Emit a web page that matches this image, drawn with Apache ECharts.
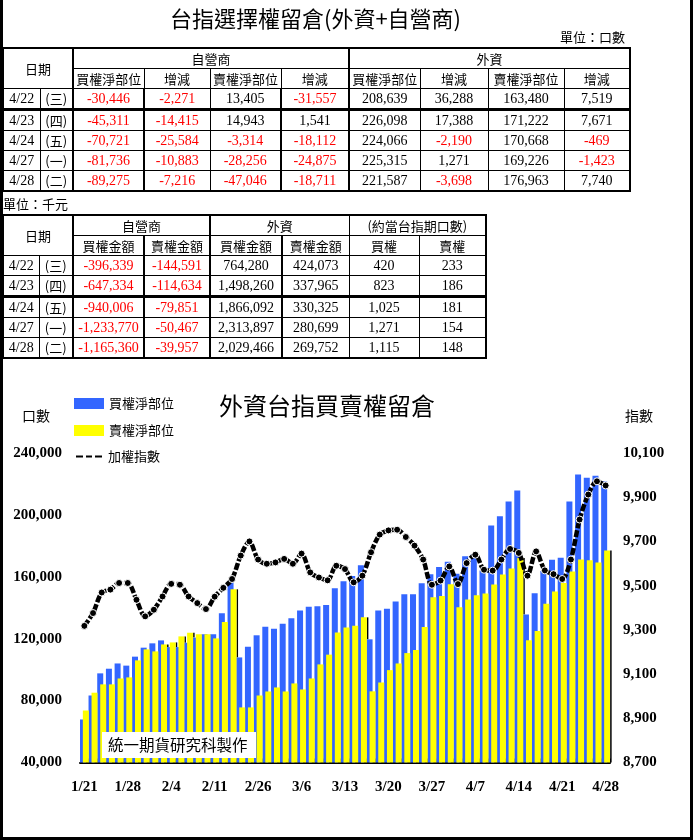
<!DOCTYPE html>
<html>
<head>
<meta charset="utf-8">
<script src="https://cdn.jsdelivr.net/npm/echarts@6/dist/echarts.min.js"></script>
<style>
  html, body { margin: 0; padding: 0; background: #fff; }
  #page { position: relative; width: 693px; height: 840px; overflow: hidden; background: #fff; }
  #chart { position: absolute; left: 0; top: 0; width: 693px; height: 840px; }
  .txt { position: absolute; font-family: "Noto Sans CJK TC", sans-serif; color: #000; white-space: nowrap; }
  table.tb { position: absolute; border-collapse: collapse; table-layout: fixed; border: 2px solid #000; background: #fff; }
  table.tb td { border: 1px solid #000; padding: 0; text-align: center; height: 19px; font-size: 13px; line-height: 14px;
    white-space: nowrap; overflow: hidden; font-family: "Noto Sans CJK TC", sans-serif; color: #000; }
  table.tb td.num { font-family: "Liberation Serif", "Noto Sans CJK TC", serif; font-size: 14px; }
  table.tb td.neg { color: #ff0000; }
  table.tb tr.thick td { border-bottom: 3px solid #000; }
  table.tb td.vt { border-left: 2px solid #000; }
  #frame { position: absolute; left: 0; top: 0; width: 687px; height: 837px; border-left: 3px solid #000; border-right: 3px solid #000; border-bottom: 3px solid #000; pointer-events: none; }
</style>
</head>
<body>
<div id="page">
  <div id="chart"></div>
  <div class="txt" style="left:2px;width:627px;top:4px;font-size:22px;line-height:26px;text-align:center;">台指選擇權留倉(外資+自營商)</div>
  <div class="txt" style="left:560px;top:29px;font-size:13px;line-height:16px;">單位：口數</div>
  <table class="tb" id="t1" style="left:2px;top:47px;width:627px;"></table>
  <div class="txt" style="left:3px;top:196px;font-size:13px;line-height:16px;">單位：千元</div>
  <table class="tb" id="t2" style="left:2px;top:214px;width:483px;"></table>
  <div id="frame"></div>
</div>
<script>
// ---------- table data ----------
const tblDates = ['4/22', '4/23', '4/24', '4/27', '4/28'];
const tblWeekdays = ['(三)', '(四)', '(五)', '(一)', '(二)'];
// 自營商 (dealers), 口數
const dealerCallNet = [-30446, -45311, -70721, -81736, -89275];
const dealerCallChg = [-2271, -14415, -25584, -10883, -7216];
const dealerPutNet = [13405, 14943, -3314, -28256, -47046];
const dealerPutChg = [-31557, 1541, -18112, -24875, -18711];
// 外資 (foreign), 口數
const foreignCallNet = [208639, 226098, 224066, 225315, 221587];
const foreignCallChg = [36288, 17388, -2190, 1271, -3698];
const foreignPutNet = [163480, 171222, 170668, 169226, 176963];
const foreignPutChg = [7519, 7671, -469, -1423, 7740];
// 千元
const dealerCallAmt = [-396339, -647334, -940006, -1233770, -1165360];
const dealerPutAmt = [-144591, -114634, -79851, -50467, -39957];
const foreignCallAmt = [764280, 1498260, 1866092, 2313897, 2029466];
const foreignPutAmt = [424073, 337965, 330325, 280699, 269752];
const equivCall = [420, 823, 1025, 1271, 1115];
const equivPut = [233, 186, 181, 154, 148];

// ---------- chart data ----------
const categories = ['1/21','1/22','1/23','1/26','1/27','1/28','1/29','1/30','2/2','2/3','2/4','2/5','2/6','2/9','2/10','2/11','2/12','2/13','2/24','2/25','2/26','3/2','3/3','3/4','3/5','3/6','3/9','3/10','3/11','3/12','3/13','3/16','3/17','3/18','3/19','3/20','3/23','3/24','3/25','3/26','3/27','3/30','3/31','4/1','4/2','4/7','4/8','4/9','4/10','4/13','4/14','4/15','4/16','4/17','4/20','4/21','4/22','4/23','4/24','4/27','4/28'];
const callNetOI = [67800, 83300, 97600, 100600, 104000, 102600, 108400, 114200, 117000, 118900, 114600, 114600, 117400, 120700, 122800, 122800, 136400, 156300, 107900, 114800, 122200, 127800, 126500, 129700, 133200, 138300, 140700, 140900, 141700, 152600, 157100, 160500, 167500, 119600, 138300, 139400, 144000, 148700, 148700, 155800, 161600, 166300, 169800, 162000, 173300, 174600, 164000, 193200, 199100, 208700, 215800, 135600, 149400, 163800, 171000, 172351, 208639, 226098, 224066, 225315, 221587];
const putNetOI = [73600, 85100, 90500, 90500, 94300, 95000, 106000, 113100, 111800, 116300, 117600, 121500, 123900, 122800, 122800, 120200, 130800, 151900, 75600, 75600, 83300, 85900, 88500, 85900, 91100, 87200, 94300, 103400, 109700, 124000, 127300, 128400, 133800, 86000, 91700, 99700, 104000, 110700, 112700, 127500, 146800, 147600, 155200, 140300, 145300, 148100, 149200, 155000, 161500, 165300, 172200, 119000, 124900, 142600, 150500, 155961, 163480, 171222, 170668, 169226, 176963];
const taiex = [9318, 9376, 9469, 9482, 9512, 9512, 9436, 9361, 9391, 9451, 9508, 9504, 9451, 9421, 9394, 9450, 9490, 9530, 9636, 9700, 9618, 9599, 9605, 9621, 9599, 9645, 9560, 9537, 9524, 9590, 9575, 9515, 9545, 9651, 9731, 9750, 9753, 9720, 9681, 9618, 9504, 9523, 9587, 9507, 9602, 9640, 9572, 9568, 9618, 9666, 9648, 9545, 9655, 9569, 9552, 9530, 9618, 9799, 9912, 9972, 9953];
const leftTicks = { min: 40000, max: 240000, step: 40000 };
const rightTicks = { min: 8700, max: 10100, step: 200 };

// ---------- build tables ----------
function fmt(n) { return n.toLocaleString('en-US'); }
function numCell(n, extra) {
  return '<td class="num' + (n < 0 ? ' neg' : '') + (extra ? ' ' + extra : '') + '">' + fmt(n) + '</td>';
}
(function buildT1() {
  const widths = [37, 33, 71, 66, 71, 68, 71, 68, 76, 66];
  let h = '<colgroup>' + widths.map(w => '<col style="width:' + w + 'px">').join('') + '</colgroup>';
  h += '<tr><td rowspan="2" colspan="2">日期</td><td colspan="4" class="vt">自營商</td><td colspan="4" class="vt">外資</td></tr>';
  h += '<tr><td class="vt">買權淨部位</td><td>增減</td><td>賣權淨部位</td><td>增減</td><td class="vt">買權淨部位</td><td>增減</td><td>賣權淨部位</td><td>增減</td></tr>';
  for (let i = 0; i < tblDates.length; i++) {
    h += '<tr' + (i === 0 ? ' class="thick"' : '') + '><td class="num">' + tblDates[i] + '</td><td>' + tblWeekdays[i] + '</td>' +
      numCell(dealerCallNet[i], 'vt') + numCell(dealerCallChg[i], 'vt') + numCell(dealerPutNet[i]) + numCell(dealerPutChg[i], 'vt') +
      numCell(foreignCallNet[i], 'vt') + numCell(foreignCallChg[i]) + numCell(foreignPutNet[i]) + numCell(foreignPutChg[i]) + '</tr>';
  }
  document.getElementById('t1').innerHTML = h;
})();
(function buildT2() {
  const widths = [36, 34, 71, 66, 72, 67, 70, 67];
  let h = '<colgroup>' + widths.map(w => '<col style="width:' + w + 'px">').join('') + '</colgroup>';
  h += '<tr><td rowspan="2" colspan="2">日期</td><td colspan="2" class="vt">自營商</td><td colspan="2" class="vt">外資</td><td colspan="2">(約當台指期口數)</td></tr>';
  h += '<tr><td class="vt">買權金額</td><td class="vt">賣權金額</td><td class="vt">買權金額</td><td class="vt">賣權金額</td><td>買權</td><td>賣權</td></tr>';
  for (let i = 0; i < tblDates.length; i++) {
    h += '<tr' + (i === 1 ? ' class="thick"' : '') + '><td class="num">' + tblDates[i] + '</td><td>' + tblWeekdays[i] + '</td>' +
      numCell(dealerCallAmt[i], 'vt') + numCell(dealerPutAmt[i], 'vt') + numCell(foreignCallAmt[i], 'vt') + numCell(foreignPutAmt[i], 'vt') +
      numCell(equivCall[i]) + numCell(equivPut[i]) + '</tr>';
  }
  document.getElementById('t2').innerHTML = h;
})();

// ---------- chart ----------
// shadow edge of each yellow bar: visible where it rises above the next blue bar
const shadowData = putNetOI.map((v, i) => [i, v, i < putNetOI.length - 1 ? Math.min(v, callNetOI[i + 1]) : leftTicks.min]);

const chart = echarts.init(document.getElementById('chart'), null, { renderer: 'canvas' });
const axisFont = { fontFamily: 'Liberation Serif', fontWeight: 'bold', fontSize: 15, color: '#000' };
const option = {
  animation: false,
  backgroundColor: 'transparent',
  title: {
    text: '外資台指買賣權留倉', left: 219, top: 394, padding: 0,
    textStyle: { fontFamily: 'Noto Sans CJK TC', fontSize: 24, fontWeight: 'normal', color: '#000' }
  },
  legend: [
    {
      data: ['買權淨部位', '賣權淨部位'], orient: 'vertical', left: 74, top: 397, padding: 0,
      itemWidth: 30, itemHeight: 11, itemGap: 14, icon: 'rect', selectedMode: false,
      textStyle: { fontFamily: 'Noto Sans CJK TC', fontSize: 13, color: '#000' }
    },
    {
      data: [{ name: '加權指數', icon: 'path://M0,0h9v4h-9zM10,0h8v4h-8zM19,0h9v4h-9z' }], orient: 'vertical', left: 74, top: 450, padding: 0,
      itemWidth: 28, itemHeight: 4, selectedMode: false,
      textStyle: { fontFamily: 'Noto Sans CJK TC', fontSize: 13, color: '#000' }
    }
  ],
  grid: { left: 80, right: 83, top: 453, bottom: 77.5, containLabel: false },
  xAxis: {
    type: 'category', data: categories, boundaryGap: true,
    axisLine: { lineStyle: { color: '#000', width: 2 } },
    axisTick: { show: true, inside: true, length: 4, interval: 0, lineStyle: { color: '#000', width: 1 } },
    axisLabel: Object.assign({ interval: 4, margin: 17 }, axisFont),
    splitLine: { show: false }
  },
  yAxis: [
    {
      type: 'value', min: leftTicks.min, max: leftTicks.max, interval: leftTicks.step,
      axisLine: { show: false }, axisTick: { show: false }, splitLine: { show: false },
      axisLabel: Object.assign({ margin: 18, formatter: v => fmt(v) }, axisFont)
    },
    {
      type: 'value', min: rightTicks.min, max: rightTicks.max, interval: rightTicks.step / 2,
      axisLine: { show: false }, axisTick: { show: false }, splitLine: { show: false },
      axisLabel: Object.assign({ margin: 13, formatter: v => ((v - rightTicks.min) % rightTicks.step === 0 ? fmt(v) : '') }, axisFont)
    }
  ],
  series: [
    {
      name: '買權淨部位', type: 'bar', data: callNetOI, barWidth: 6, barGap: '-50%',
      itemStyle: { color: '#3366ff' }
    },
    {
      name: '賣權淨部位', type: 'bar', data: putNetOI, barWidth: 6,
      itemStyle: { color: '#ffff00' }
    },
    {
      name: 'shadow', type: 'custom', data: shadowData, silent: true, z: 2,
      encode: { x: 0, y: [1, 2] },
      renderItem: function (params, api) {
        const top = api.coord([api.value(0), api.value(1)]);
        const bot = api.coord([api.value(0), api.value(2)]);
        const h = bot[1] - top[1];
        if (h <= 0.5) return null;
        return { type: 'rect', shape: { x: top[0] + 4.5, y: top[1], width: 1.5, height: h }, style: { fill: '#000' } };
      }
    },
    {
      name: '加權指數', type: 'line', yAxisIndex: 1, data: taiex, smooth: 0.3, z: 5,
      symbol: 'circle', symbolSize: 7, showAllSymbol: true,
      itemStyle: { color: '#000', borderColor: '#fff', borderWidth: 1 },
      lineStyle: { color: '#000', width: 4.5, type: [7, 2] }
    }
  ],
  graphic: [
    { type: 'text', left: 22, top: 409, style: { text: '口數', fontFamily: 'Noto Sans CJK TC', fontSize: 14, fill: '#000' } },
    { type: 'text', left: 625, top: 409, style: { text: '指數', fontFamily: 'Noto Sans CJK TC', fontSize: 14, fill: '#000' } },
    { type: 'rect', left: 102, top: 732, z: 100, shape: { width: 154, height: 26 }, style: { fill: '#fff' } },
    { type: 'text', left: 108, top: 737, z: 101, style: { text: '統一期貨研究科製作', fontFamily: 'Noto Sans CJK TC', fontSize: 15.5, fill: '#000' } }
  ]
};
chart.setOption(option);
</script>
</body>
</html>
